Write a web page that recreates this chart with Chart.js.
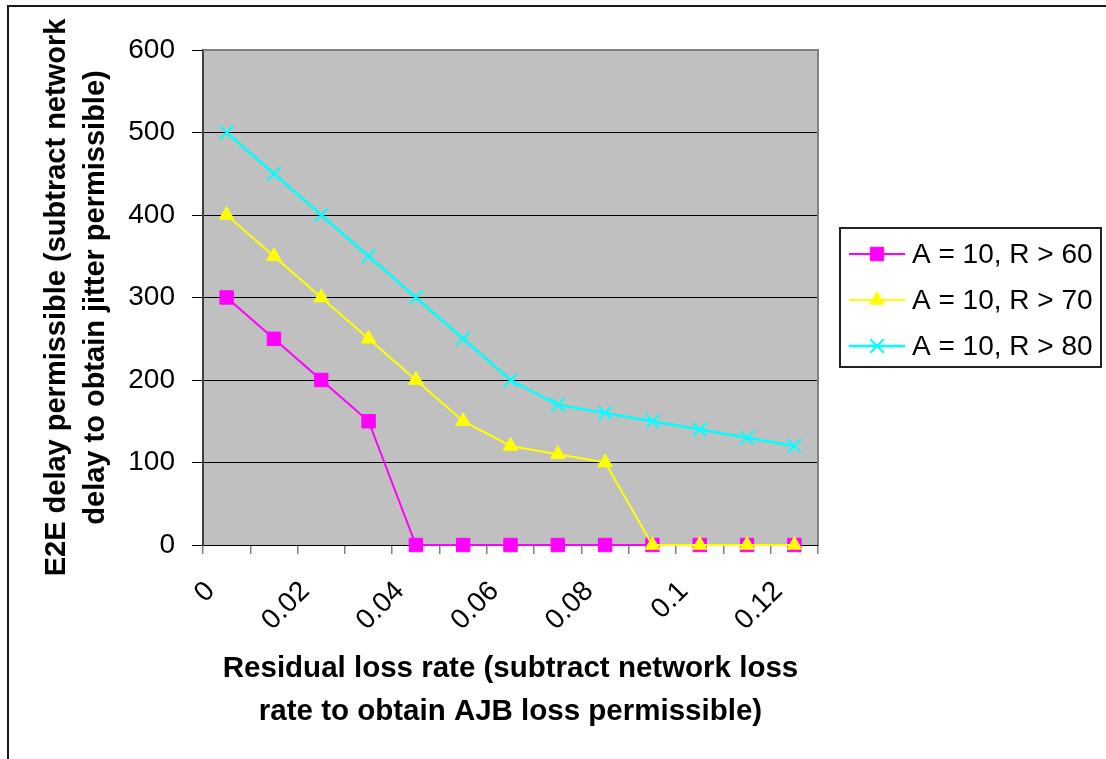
<!DOCTYPE html>
<html>
<head>
<meta charset="utf-8">
<script src="https://cdn.jsdelivr.net/npm/chart.js@4.4.1/dist/chart.umd.min.js"></script>
<style>
  html, body { margin: 0; padding: 0; background: #ffffff; }
  #wrap { position: relative; width: 1106px; height: 759px; }
</style>
</head>
<body>
<div id="wrap"><canvas id="c" width="1106" height="759"></canvas></div>
<script>
// ---- data ----
const categories = ['0','0.01','0.02','0.03','0.04','0.05','0.06','0.07','0.08','0.09','0.1','0.11','0.12'];
const seriesR60 = [300, 250, 200, 150, 0, 0, 0, 0, 0, 0, 0, 0, 0];
const seriesR70 = [400, 350, 300, 250, 200, 150, 120, 110, 100, 0, 0, 0, 0];
const seriesR80 = [500, 450, 400, 350, 300, 250, 200, 170, 160, 150, 140, 130, 120];
const seriesNames = ['A = 10, R > 60', 'A = 10, R > 70', 'A = 10, R > 80'];
const yMin = 0, yMax = 600, yStep = 100;
const xTitle = ['Residual loss rate (subtract network loss', 'rate to obtain AJB loss permissible)'];
const yTitle = ['E2E delay permissible (subtract network', 'delay to obtain jitter permissible)'];

const FONT = "'Liberation Sans', Arial, Helvetica, sans-serif";

const bgPlugin = {
  id: 'plotBg',
  beforeDraw(chart) {
    const { ctx, chartArea: a } = chart;
    ctx.save();
    ctx.fillStyle = '#ffffff';
    ctx.fillRect(0, 0, chart.width, chart.height);
    // outer chart border (left + top)
    ctx.strokeStyle = '#1a1a1a';
    ctx.lineWidth = 2;
    ctx.beginPath();
    ctx.moveTo(8, chart.height + 2);
    ctx.lineTo(8, 6);
    ctx.lineTo(chart.width + 2, 6);
    ctx.stroke();
    ctx.fillStyle = '#c0c0c0';
    ctx.fillRect(a.left, a.top, a.right - a.left, a.bottom - a.top);
    ctx.restore();
  },
  beforeDatasetsDraw(chart) {
    const { ctx, chartArea: a } = chart;
    ctx.save();
    ctx.strokeStyle = '#808080';
    ctx.lineWidth = 2;
    ctx.beginPath();
    ctx.moveTo(a.left, a.top);
    ctx.lineTo(a.right, a.top);
    ctx.lineTo(a.right, a.bottom);
    ctx.stroke();
    ctx.restore();
  }
};

// vertical (rotated) y-axis title, two lines
const yTitlePlugin = {
  id: 'yTitle',
  afterDraw(chart) {
    const { ctx, chartArea: a } = chart;
    const cy = (a.top + a.bottom) / 2;
    const xs = [57, 96];
    ctx.save();
    ctx.fillStyle = '#000000';
    ctx.font = 'bold 29px ' + FONT;
    ctx.textAlign = 'center';
    ctx.textBaseline = 'middle';
    yTitle.forEach((line, i) => {
      ctx.save();
      ctx.translate(xs[i], cy);
      ctx.rotate(-Math.PI / 2);
      ctx.fillText(line, 0, 0);
      ctx.restore();
    });
    ctx.restore();
  }
};

function drawMarker(ctx, ds, x, y) {
  const opts = {
    pointStyle: ds.pointStyle,
    radius: ds.pointRadius,
    rotation: 0,
    borderWidth: ds.pointBorderWidth
  };
  ctx.save();
  ctx.fillStyle = ds.pointBackgroundColor;
  ctx.strokeStyle = ds.pointBorderColor;
  ctx.lineWidth = ds.pointBorderWidth;
  if (Chart.helpers && Chart.helpers.drawPoint) {
    Chart.helpers.drawPoint(ctx, opts, x, y);
  }
  ctx.restore();
}

const legendPlugin = {
  id: 'excelLegend',
  afterDraw(chart) {
    const ctx = chart.ctx;
    const bx = 840, by = 228, bw = 261, bh = 139;
    ctx.save();
    ctx.fillStyle = '#ffffff';
    ctx.fillRect(bx, by, bw, bh);
    ctx.strokeStyle = '#222222';
    ctx.lineWidth = 2;
    ctx.strokeRect(bx, by, bw, bh);
    const rows = [254, 300, 346];
    chart.data.datasets.forEach((ds, i) => {
      const y = rows[i];
      ctx.strokeStyle = ds.borderColor;
      ctx.lineWidth = ds.borderWidth;
      ctx.beginPath();
      ctx.moveTo(849, y);
      ctx.lineTo(905, y);
      ctx.stroke();
      drawMarker(ctx, ds, 877, y);
      ctx.fillStyle = '#000000';
      ctx.font = '28px ' + FONT;
      ctx.textAlign = 'left';
      ctx.textBaseline = 'middle';
      ctx.fillText(seriesNames[i], 912, y + 1);
    });
    ctx.restore();
  }
};

new Chart(document.getElementById('c'), {
  type: 'line',
  data: {
    labels: categories,
    datasets: [
      {
        label: seriesNames[0], data: seriesR60,
        borderColor: '#ff00ff', backgroundColor: '#ff00ff', borderWidth: 2,
        pointStyle: 'rect', pointRadius: 9.5, pointBorderWidth: 1,
        pointBackgroundColor: '#ff00ff', pointBorderColor: '#ff00ff',
        tension: 0, clip: false, order: 3
      },
      {
        label: seriesNames[1], data: seriesR70,
        borderColor: '#ffff00', backgroundColor: '#ffff00', borderWidth: 2,
        pointStyle: 'triangle', pointRadius: 8.5, pointBorderWidth: 1,
        pointBackgroundColor: '#ffff00', pointBorderColor: '#ffff00',
        tension: 0, clip: false, order: 2
      },
      {
        label: seriesNames[2], data: seriesR80,
        borderColor: '#00ffff', backgroundColor: '#00ffff', borderWidth: 2.5,
        pointStyle: 'crossRot', pointRadius: 9.5, pointBorderWidth: 2,
        pointBackgroundColor: '#00ffff', pointBorderColor: '#00ffff',
        tension: 0, clip: false, order: 1
      }
    ]
  },
  options: {
    responsive: false,
    animation: false,
    devicePixelRatio: 1,
    layout: { padding: { left: 10, right: 288, top: 50, bottom: 10 } },
    plugins: {
      legend: { display: false },
      tooltip: { enabled: false },
      title: { display: false }
    },
    scales: {
      x: {
        type: 'category',
        offset: true,
        grid: {
          display: true, drawOnChartArea: false, drawTicks: true,
          tickLength: 9, color: '#808080', offset: true, lineWidth: 1.5
        },
        border: { display: true, color: '#000000', width: 1 },
        ticks: {
          autoSkip: false, minRotation: 45, maxRotation: 45,
          labelOffset: -16, padding: 21,
          color: '#000000', font: { family: FONT, size: 28 },
          callback: function (v, i) { return i % 2 === 0 ? categories[i] : ''; }
        },
        title: {
          display: true, text: xTitle, color: '#000000',
          font: { family: FONT, size: 29.5, weight: 'bold', lineHeight: 1.45 },
          padding: { top: 0, bottom: 16 }
        },
        afterFit(scale) { scale.height = 204; }
      },
      y: {
        min: yMin, max: yMax,
        grid: {
          color: (c) => (c.tick && c.tick.value === yMax ? '#808080' : '#000000'),
          tickColor: '#000000', tickLength: 11, lineWidth: 1
        },
        border: { display: true, color: '#404040', width: 2 },
        ticks: {
          stepSize: yStep, padding: 17, color: '#000000',
          font: { family: FONT, size: 28 }
        },
        title: { display: false },
        afterFit(scale) { scale.width = 193; }
      }
    }
  },
  plugins: [bgPlugin, yTitlePlugin, legendPlugin]
});
</script>
</body>
</html>
